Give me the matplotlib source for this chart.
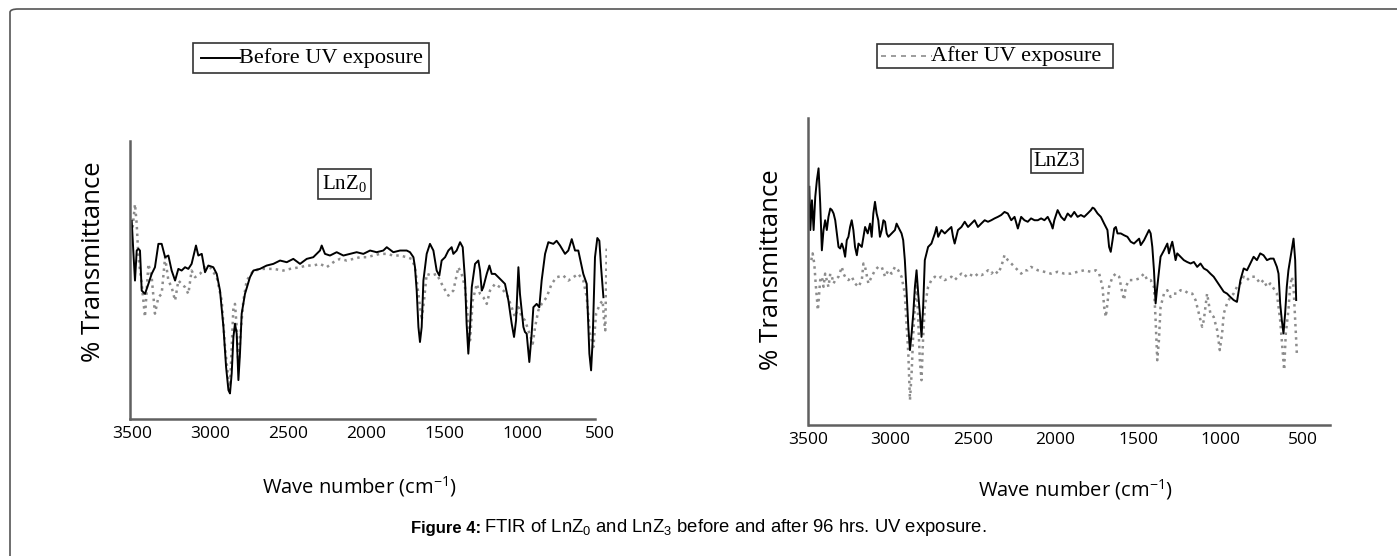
"""FTIR of LnZ0 and LnZ3 before and after UV exposure."""

import matplotlib
matplotlib.use("Agg")
import matplotlib.pyplot as plt
from matplotlib.patches import Rectangle, FancyBboxPatch
from matplotlib.lines import Line2D

W, H = 1397, 556

# LnZ0 - before UV exposure (wave number cm-1, % transmittance)
lnz0_before_wn = [3502, 3492, 3481, 3470, 3459, 3449, 3438, 3417, 3395, 3374,
                  3353, 3331, 3310, 3288, 3267, 3246, 3224, 3203, 3182, 3160,
                  3139, 3118, 3090, 3075, 3053, 3032, 3011, 2979, 2957, 2936,
                  2914, 2897, 2882, 2872, 2861, 2850, 2840, 2829, 2818, 2808,
                  2797, 2776, 2744, 2722, 2680, 2637, 2594, 2551, 2508, 2466,
                  2423, 2380, 2338, 2295, 2284, 2263, 2231, 2188, 2145, 2102,
                  2060, 2017, 1974, 1932, 1889, 1867, 1825, 1782, 1739, 1718,
                  1696, 1686, 1675, 1664, 1654, 1643, 1632, 1611, 1590, 1568,
                  1547, 1530, 1515, 1493, 1472, 1451, 1440, 1419, 1397, 1380,
                  1365, 1355, 1344, 1333, 1322, 1301, 1280, 1269, 1258, 1248,
                  1226, 1209, 1194, 1173, 1151, 1130, 1109, 1087, 1066, 1051,
                  1038, 1023, 1013, 991, 981, 970, 953, 938, 927, 906,
                  889, 874, 852, 831, 799, 778, 756, 724, 703, 681,
                  660, 639, 607, 585, 568, 557, 547, 532, 517, 504,
                  493, 483, 478]
lnz0_before_t = [71.3, 60.6, 49.8, 60.6, 61.2, 60.6, 46.2, 45.0, 48.6, 52.2,
                 54.6, 63.0, 63.0, 58.2, 58.8, 53.4, 49.8, 54.0, 53.4, 54.6,
                 54.0, 55.8, 62.4, 58.8, 59.4, 52.8, 55.2, 54.6, 52.2, 46.2,
                 33.1, 18.7, 10.4, 9.2, 16.4, 29.5, 34.3, 30.7, 14.0, 23.5,
                 37.9, 45.0, 51.0, 53.4, 54.0, 55.2, 55.8, 57.0, 56.4, 57.6,
                 55.8, 57.6, 58.2, 60.6, 62.4, 59.4, 58.8, 60.0, 58.8, 59.4,
                 60.0, 59.4, 60.6, 60.0, 60.6, 61.8, 60.0, 60.6, 60.6, 60.0,
                 58.2, 54.6, 46.2, 33.1, 27.7, 33.1, 49.8, 59.4, 63.0, 60.6,
                 53.4, 51.6, 57.0, 58.2, 60.6, 61.8, 59.4, 60.6, 63.6, 61.8,
                 49.8, 34.3, 23.5, 33.1, 47.4, 55.8, 57.0, 53.4, 46.2, 47.4,
                 52.2, 55.2, 52.2, 52.2, 51.0, 49.8, 48.6, 42.6, 34.3, 29.5,
                 35.5, 54.6, 45.0, 33.1, 31.3, 30.7, 20.5, 30.7, 40.2, 41.4,
                 40.2, 49.8, 59.4, 63.6, 63.0, 64.1, 62.4, 59.4, 60.6, 64.7,
                 60.6, 60.6, 52.2, 48.6, 23.5, 17.5, 28.3, 58.2, 65.1, 64.1,
                 54.6, 47.4, 43.8]

# LnZ0 - after UV exposure
lnz0_after_wn = [3496, 3481, 3470, 3459, 3438, 3417, 3395, 3374, 3353, 3331,
                 3310, 3288, 3267, 3246, 3224, 3203, 3182, 3160, 3139, 3118,
                 3096, 3064, 3032, 3000, 2957, 2925, 2904, 2882, 2872, 2861,
                 2850, 2840, 2829, 2818, 2803, 2786, 2765, 2722, 2658, 2594,
                 2530, 2487, 2423, 2380, 2338, 2295, 2252, 2209, 2167, 2124,
                 2081, 2038, 1996, 1953, 1910, 1867, 1825, 1782, 1739, 1707,
                 1686, 1664, 1643, 1628, 1611, 1579, 1547, 1504, 1472, 1440,
                 1408, 1387, 1365, 1344, 1333, 1316, 1290, 1269, 1248, 1226,
                 1205, 1173, 1141, 1098, 1066, 1045, 1023, 1002, 981, 959,
                 931, 916, 895, 874, 842, 810, 778, 735, 703, 671,
                 639, 607, 585, 564, 542, 525, 500, 483, 474, 466,
                 457]
lnz0_after_t = [68.9, 77.3, 70.1, 58.2, 48.6, 36.7, 55.8, 51.0, 37.9, 43.8,
                45.0, 58.2, 49.8, 47.4, 42.6, 49.8, 48.6, 47.4, 45.0, 53.4,
                51.0, 52.2, 54.6, 54.6, 51.0, 42.6, 25.9, 14.0, 11.6, 25.9,
                40.2, 41.4, 33.1, 18.7, 31.9, 42.6, 49.8, 53.4, 54.0, 54.0,
                53.4, 54.0, 54.6, 55.2, 55.2, 55.8, 54.6, 56.4, 57.6, 57.0,
                57.6, 58.2, 58.2, 58.8, 59.4, 59.4, 58.8, 58.8, 58.2, 57.6,
                54.6, 45.0, 35.5, 42.6, 52.2, 51.6, 52.2, 47.4, 44.4, 46.2,
                54.6, 52.2, 47.4, 34.3, 28.3, 42.6, 48.6, 45.0, 43.8, 41.4,
                46.2, 48.6, 47.4, 45.0, 40.2, 36.7, 40.2, 36.7, 35.5, 31.9,
                27.1, 33.1, 39.1, 41.4, 43.8, 48.6, 51.0, 51.6, 49.8, 51.0,
                52.2, 49.8, 43.8, 30.7, 25.9, 37.9, 41.4, 42.6, 35.5, 31.9,
                61.8]

# LnZ3 - before UV exposure
lnz3_before_wn = [3492, 3486, 3476, 3466, 3456, 3446, 3436, 3426, 3416, 3406,
                  3396, 3386, 3376, 3365, 3355, 3345, 3335, 3325, 3315, 3305,
                  3295, 3285, 3275, 3265, 3255, 3245, 3235, 3225, 3215, 3204,
                  3194, 3174, 3164, 3154, 3138, 3124, 3114, 3104, 3094, 3084,
                  3074, 3064, 3053, 3043, 3033, 3023, 3013, 2993, 2973, 2963,
                  2953, 2933, 2923, 2913, 2902, 2892, 2882, 2872, 2862, 2852,
                  2842, 2832, 2822, 2812, 2802, 2792, 2772, 2752, 2731, 2721,
                  2711, 2691, 2671, 2651, 2631, 2621, 2611, 2591, 2570, 2550,
                  2530, 2510, 2490, 2470, 2450, 2429, 2409, 2389, 2369, 2349,
                  2329, 2309, 2289, 2268, 2248, 2228, 2208, 2188, 2168, 2148,
                  2127, 2107, 2087, 2067, 2047, 2027, 2017, 2007, 1987, 1966,
                  1946, 1926, 1906, 1886, 1866, 1846, 1826, 1805, 1785, 1775,
                  1765, 1745, 1725, 1705, 1685, 1675, 1665, 1654, 1644, 1634,
                  1624, 1604, 1584, 1564, 1544, 1524, 1503, 1493, 1483, 1463,
                  1443, 1433, 1423, 1413, 1403, 1393, 1383, 1363, 1342, 1322,
                  1312, 1302, 1292, 1282, 1272, 1262, 1242, 1222, 1202, 1181,
                  1161, 1141, 1121, 1101, 1081, 1061, 1041, 1020, 1000, 980,
                  960, 940, 920, 900, 879, 859, 839, 819, 799, 779,
                  759, 739, 718, 698, 678, 658, 648, 638, 628, 618,
                  608, 598, 588, 578, 567, 557, 547, 541]
lnz3_before_t = [77.6, 63.5, 73.2, 63.5, 74.3, 79.8, 83.6, 72.2, 56.9, 63.5,
                 66.7, 63.5, 67.8, 70.5, 70.0, 68.9, 66.7, 62.4, 58.0, 57.5,
                 59.1, 57.5, 54.8, 60.2, 61.3, 64.5, 66.7, 63.5, 58.0, 55.3,
                 59.1, 58.0, 61.3, 64.5, 62.4, 65.6, 61.3, 68.9, 72.7, 68.9,
                 66.7, 61.3, 63.5, 66.7, 66.2, 62.4, 61.3, 62.4, 63.5, 65.6,
                 64.5, 62.4, 60.2, 53.7, 42.8, 32.0, 24.4, 29.8, 36.3, 45.0,
                 50.4, 42.8, 36.3, 28.7, 38.5, 53.7, 58.0, 59.1, 62.4, 64.5,
                 61.3, 63.5, 62.4, 63.5, 64.5, 61.3, 59.1, 63.5, 64.5, 66.2,
                 64.5, 65.6, 66.7, 64.5, 65.6, 66.7, 66.2, 66.7, 67.3, 67.8,
                 68.4, 69.4, 68.9, 66.7, 67.8, 64.0, 67.8, 66.7, 66.2, 67.3,
                 66.7, 66.7, 67.3, 66.7, 67.8, 65.6, 64.0, 66.7, 70.0, 67.8,
                 66.7, 68.9, 67.8, 69.4, 67.8, 68.4, 67.8, 68.9, 70.0, 70.8,
                 70.5, 68.9, 67.8, 65.6, 63.5, 58.0, 56.4, 60.2, 64.0, 64.5,
                 62.4, 62.4, 61.8, 61.3, 59.7, 59.1, 60.2, 60.7, 58.6, 60.2,
                 62.4, 63.5, 62.4, 58.0, 50.4, 39.6, 45.0, 54.8, 56.9, 59.1,
                 55.9, 58.0, 59.7, 56.9, 53.7, 55.9, 54.8, 53.7, 53.1, 52.6,
                 53.1, 51.5, 52.6, 51.0, 50.4, 49.3, 48.3, 46.6, 45.0, 43.4,
                 42.8, 41.7, 40.7, 40.1, 47.2, 51.0, 50.4, 52.6, 54.8, 53.7,
                 55.9, 55.3, 53.7, 54.2, 54.2, 51.5, 49.3, 39.6, 34.1, 29.8,
                 36.3, 45.0, 50.4, 53.7, 57.5, 60.7, 53.7, 40.7]

# LnZ3 - after UV exposure
lnz3_after_wn = [3480, 3472, 3462, 3452, 3440, 3426, 3416, 3406, 3396, 3386,
                 3376, 3365, 3355, 3345, 3335, 3315, 3295, 3285, 3275, 3255,
                 3235, 3215, 3194, 3174, 3164, 3154, 3134, 3114, 3094, 3074,
                 3053, 3033, 3013, 2993, 2973, 2953, 2933, 2913, 2902, 2892,
                 2882, 2872, 2862, 2852, 2842, 2832, 2822, 2812, 2802, 2792,
                 2772, 2752, 2731, 2711, 2691, 2671, 2651, 2631, 2611, 2591,
                 2570, 2550, 2530, 2510, 2490, 2470, 2450, 2429, 2409, 2389,
                 2369, 2349, 2329, 2309, 2289, 2268, 2248, 2228, 2208, 2188,
                 2168, 2148, 2107, 2067, 2027, 1987, 1946, 1906, 1866, 1826,
                 1785, 1755, 1735, 1715, 1705, 1695, 1685, 1675, 1654, 1634,
                 1614, 1594, 1584, 1574, 1554, 1524, 1493, 1463, 1443, 1423,
                 1403, 1393, 1383, 1373, 1363, 1342, 1322, 1302, 1282, 1262,
                 1242, 1222, 1192, 1171, 1151, 1131, 1111, 1101, 1081, 1061,
                 1041, 1020, 1004, 990, 980, 960, 940, 920, 900, 879,
                 859, 839, 819, 789, 759, 739, 718, 698, 678, 658,
                 638, 622, 614, 604, 588, 578, 567, 557, 547, 537]
lnz3_after_t = [53.7, 55.9, 52.6, 45.0, 37.4, 47.2, 48.3, 45.0, 49.3, 47.2,
                45.0, 49.3, 48.3, 46.1, 47.2, 48.3, 51.5, 49.3, 48.3, 47.2,
                48.3, 46.1, 45.0, 47.2, 52.6, 51.5, 46.1, 48.3, 50.4, 51.5,
                51.5, 48.3, 50.4, 49.3, 51.5, 50.4, 48.3, 42.8, 32.0, 23.3,
                8.1, 16.8, 29.8, 38.5, 48.3, 34.1, 21.1, 14.6, 28.7, 38.5,
                45.0, 47.2, 48.3, 47.7, 48.3, 47.2, 47.7, 48.3, 47.2, 48.3,
                49.3, 48.3, 49.3, 48.8, 48.3, 49.3, 48.8, 49.3, 50.4, 49.3,
                50.4, 49.3, 51.5, 55.3, 53.7, 52.6, 51.5, 50.4, 49.3, 50.4,
                50.4, 51.5, 50.4, 49.9, 49.3, 49.9, 49.3, 49.3, 49.9, 50.4,
                49.9, 50.4, 49.3, 45.0, 38.5, 35.2, 39.6, 45.0, 48.3, 49.3,
                48.3, 42.8, 40.7, 45.0, 47.2, 47.2, 47.7, 49.3, 47.2, 47.2,
                45.0, 34.1, 21.1, 27.6, 38.5, 42.8, 43.9, 41.7, 42.8, 42.8,
                43.9, 43.9, 42.8, 42.8, 40.7, 36.3, 32.0, 34.1, 42.8, 36.3,
                35.2, 30.9, 24.4, 29.8, 36.3, 39.6, 41.7, 42.8, 45.0, 46.1,
                48.3, 47.2, 48.3, 48.3, 46.1, 47.2, 45.0, 46.1, 44.5, 42.8,
                34.1, 23.3, 17.9, 29.8, 37.4, 45.0, 48.3, 45.0, 34.1, 23.3]

xticks = [3500, 3000, 2500, 2000, 1500, 1000, 500]

plt.rcParams['font.family'] = ['Open Sans', 'DejaVu Sans']
plt.rcParams['mathtext.default'] = 'regular'

fig = plt.figure(figsize=(W / 100, H / 100), dpi=100)


def box(x0, y0, x1, y1):
    # pixel box (top-left origin) -> figure fraction rect
    return [x0 / W, 1 - y1 / H, (x1 - x0) / W, (y1 - y0) / H]


def fx(x):
    return x / W


def fy(y):
    return 1 - y / H


def style_axes(ax, xlim, spine_end):
    ax.set_xlim(*xlim)
    ax.set_ylim(0, 100)
    for s in ['top', 'right']:
        ax.spines[s].set_visible(False)
    for s in ['left', 'bottom']:
        ax.spines[s].set_color('#606060')
        ax.spines[s].set_linewidth(1.8)
    ax.spines['bottom'].set_bounds(xlim[0], spine_end)
    ax.set_yticks([])
    ax.set_xticks(xticks)
    ax.tick_params(axis='x', length=0, pad=5, labelsize=12.5)
    ax.patch.set_visible(False)


# left panel: LnZ0
ax1 = fig.add_axes(box(130, 141, 607, 419))
ax1.plot(lnz0_after_wn, lnz0_after_t, color='#8c8c8c', ls=':', lw=1.8)
ax1.plot(lnz0_before_wn, lnz0_before_t, color='black', lw=1.4)
style_axes(ax1, (3513, 455), 532)

# right panel: LnZ3
ax2 = fig.add_axes(box(808, 118, 1330, 425))
ax2.plot(lnz3_after_wn, lnz3_after_t, color='#8c8c8c', ls=':', lw=1.8)
ax2.plot(lnz3_before_wn, lnz3_before_t, color='black', lw=1.4)
style_axes(ax2, (3492, 336), 336)

# axis labels
fig.text(fx(93), fy(262), '% Transmittance', rotation=90, ha='center',
         va='center', fontsize=18.5)
fig.text(fx(772), fy(270), '% Transmittance', rotation=90, ha='center',
         va='center', fontsize=18.5)
xlab = 'Wave number (cm$^{\\mathregular{-1}}$)'
fig.text(fx(359), fy(487), xlab, ha='center', va='center', fontsize=14.5)
fig.text(fx(1075), fy(490), xlab, ha='center', va='center', fontsize=14.5)

# legend boxes
serif = 'Liberation Serif'
fig.add_artist(Rectangle((fx(193), fy(73)), fx(429) - fx(193), fy(43) - fy(73),
                         transform=fig.transFigure, fill=False, ec='#333333', lw=1.2))
fig.add_artist(Line2D([fx(201), fx(240)], [fy(58), fy(58)],
                      transform=fig.transFigure, color='black', lw=1.4))
fig.text(fx(239), fy(58), 'Before UV exposure', family=serif, fontsize=16,
         va='center', ha='left')

fig.add_artist(Rectangle((fx(877), fy(68)), fx(1113) - fx(877), fy(44) - fy(68),
                         transform=fig.transFigure, fill=False, ec='#333333', lw=1.2))
fig.add_artist(Line2D([fx(881), fx(932)], [fy(56), fy(56)],
                      transform=fig.transFigure, color='#8c8c8c', lw=1.2,
                      ls=(0, (3, 3))))
fig.text(fx(931), fy(56), 'After UV exposure', family=serif, fontsize=16,
         va='center', ha='left')

# sample tags
fig.text(fx(344.5), fy(184), 'LnZ$_{0}$', family=serif, fontsize=15,
         ha='center', va='center',
         bbox=dict(boxstyle='square,pad=0.22', fc='white', ec='#333333', lw=1.2))
fig.text(fx(1057), fy(161), 'LnZ3', family=serif, fontsize=15,
         ha='center', va='center',
         bbox=dict(boxstyle='square,pad=0.12', fc='white', ec='#333333', lw=1.2))

# caption
sans = 'Liberation Sans'
fig.text(fx(481), fy(528), 'Figure 4:', family=sans, fontsize=12,
         fontweight='bold', ha='right', va='center')
fig.text(fx(484), fy(528),
         'FTIR of LnZ$_{0}$ and LnZ$_{3}$ before and after 96 hrs. UV exposure.',
         family=sans, fontsize=13.3, ha='left', va='center')

# outer frame (only top and left edges show)
fig.add_artist(FancyBboxPatch((fx(10), fy(600)), fx(1450) - fx(10), fy(9) - fy(600),
                              boxstyle='round,pad=0,rounding_size=0.006',
                              transform=fig.transFigure, fill=False,
                              ec='#555555', lw=1.2, clip_on=False))

fig.savefig('out.png', dpi=100)
